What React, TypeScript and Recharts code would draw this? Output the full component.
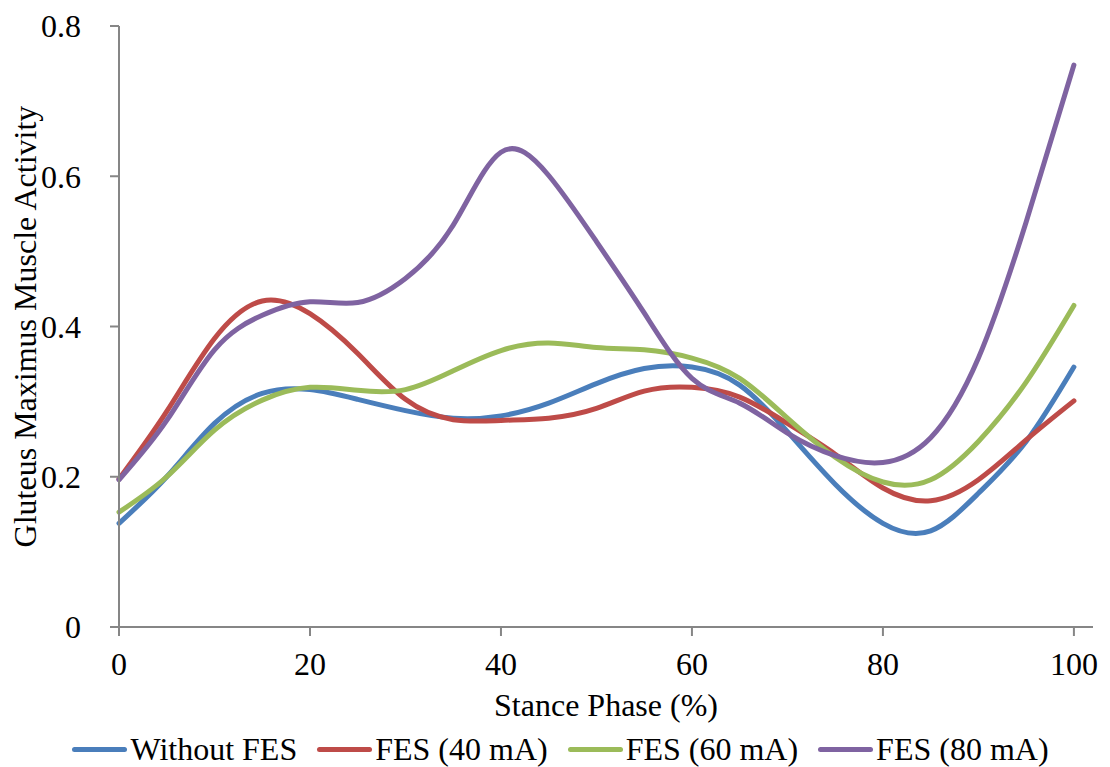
import React from 'react';
import { LineChart, Line, XAxis, YAxis, Label } from 'recharts';

// Stance phase (%) sample positions
const PHASE = [0, 5, 10, 15, 20, 25, 30, 35, 40, 45, 50, 55, 60, 65, 70, 75, 80, 85, 90, 95, 100];

// Gluteus maximus activity for each condition
const WITHOUT_FES = [0.138, 0.2, 0.271, 0.311, 0.316, 0.303, 0.288, 0.278, 0.281, 0.298, 0.324, 0.344, 0.346, 0.322, 0.26, 0.19, 0.138, 0.128, 0.178, 0.247, 0.346];
const FES_40 = [0.197, 0.287, 0.384, 0.434, 0.417, 0.364, 0.303, 0.276, 0.275, 0.278, 0.291, 0.314, 0.319, 0.306, 0.271, 0.23, 0.185, 0.168, 0.196, 0.249, 0.301];
const FES_60 = [0.153, 0.2, 0.262, 0.302, 0.319, 0.315, 0.316, 0.341, 0.368, 0.378, 0.372, 0.369, 0.358, 0.331, 0.278, 0.226, 0.193, 0.196, 0.247, 0.326, 0.428];
const FES_80 = [0.196, 0.275, 0.369, 0.415, 0.433, 0.432, 0.464, 0.535, 0.632, 0.601, 0.513, 0.418, 0.331, 0.298, 0.258, 0.228, 0.219, 0.252, 0.358, 0.539, 0.748];

const X_TICKS = [0, 20, 40, 60, 80, 100];
const Y_TICKS = [0, 0.2, 0.4, 0.6, 0.8];

const FONT = '"Liberation Serif", "Times New Roman", serif';
const AXIS = '#868686';

const SERIES = [
  { key: 'without', name: 'Without FES', color: '#4A7EBB', values: WITHOUT_FES },
  { key: 'fes40', name: 'FES (40 mA)', color: '#BE4B48', values: FES_40 },
  { key: 'fes60', name: 'FES (60 mA)', color: '#9BBB59', values: FES_60 },
  { key: 'fes80', name: 'FES (80 mA)', color: '#7F63A1', values: FES_80 },
];

const data = PHASE.map((p, i) => {
  const row: Record<string, number> = { phase: p };
  SERIES.forEach((s) => {
    row[s.key] = s.values[i];
  });
  return row;
});

const tickStyle = { fill: '#000', fontSize: 32, fontFamily: FONT };

const App: React.FC = () => {
  return (
    <div style={{ position: 'absolute', left: 0, top: 0, width: 1110, height: 767, background: '#fff', fontFamily: FONT }}>
      <LineChart width={1110} height={730} data={data} margin={{ top: 26, right: 17, bottom: 0, left: 0 }}>
        <XAxis
          type="number"
          dataKey="phase"
          domain={[0, 102]}
          ticks={X_TICKS}
          height={103}
          tick={tickStyle}
          tickSize={9}
          tickMargin={16}
          axisLine={{ stroke: AXIS, strokeWidth: 2 }}
          tickLine={{ stroke: AXIS, strokeWidth: 2 }}
        >
          <Label
            value="Stance Phase (%)"
            position="insideTop"
            offset={66}
            style={{ fill: '#000', fontSize: 32, fontFamily: FONT }}
          />
        </XAxis>
        <YAxis
          type="number"
          domain={[0, 0.8]}
          ticks={Y_TICKS}
          width={119}
          tick={tickStyle}
          tickSize={9}
          tickMargin={29}
          tickFormatter={(v: number) => (v === 0 ? '0' : v.toFixed(1))}
          axisLine={{ stroke: AXIS, strokeWidth: 2 }}
          tickLine={{ stroke: AXIS, strokeWidth: 2 }}
        >
          <Label
            value="Gluteus Maximus Muscle Activity"
            angle={-90}
            position="insideLeft"
            offset={25}
            textAnchor="middle"
            style={{ fill: '#000', fontSize: 32, fontFamily: FONT }}
          />
        </YAxis>
        {SERIES.map((s) => (
          <Line
            key={s.key}
            type="natural"
            dataKey={s.key}
            name={s.name}
            stroke={s.color}
            strokeWidth={5}
            strokeLinecap="round"
            dot={false}
            activeDot={false}
            isAnimationActive={false}
          />
        ))}
      </LineChart>
      {/* legend row under the plot */}
      <div
        style={{
          position: 'absolute',
          left: 0,
          top: 731,
          width: 1110,
          height: 36,
          paddingLeft: 11,
          boxSizing: 'border-box',
          display: 'flex',
          justifyContent: 'center',
          alignItems: 'center',
          fontSize: 32,
          lineHeight: '36px',
          color: '#000',
          whiteSpace: 'nowrap',
        }}
      >
        {SERIES.map((s, i) => (
          <div key={s.key} style={{ display: 'flex', alignItems: 'center', marginRight: i < SERIES.length - 1 ? 20 : 0 }}>
            <span style={{ display: 'inline-block', width: 55, height: 5, borderRadius: 3, background: s.color, marginRight: 3 }} />
            <span>{s.name}</span>
          </div>
        ))}
      </div>
    </div>
  );
};

export default App;
